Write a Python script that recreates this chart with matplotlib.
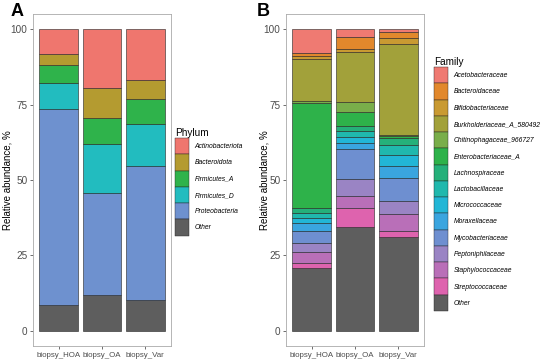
import matplotlib
matplotlib.use("Agg")
import matplotlib.pyplot as plt
from matplotlib.patches import Patch

plt.rcParams['font.family'] = ['Liberation Sans', 'DejaVu Sans']

samples = ['biopsy_HOA', 'biopsy_OA', 'biopsy_Var']

# Phylum level, stacked from bottom (Other) to top
phylum_names = ['Other', 'Proteobacteria', 'Firmicutes_D', 'Firmicutes_A',
                'Bacteroidota', 'Actinobacteriota']
phylum_vals = [
    [8.6, 11.9, 10.2],
    [64.9, 33.9, 44.4],
    [8.8, 16.2, 13.9],
    [5.8, 8.5, 8.4],
    [3.5, 9.9, 6.3],
    [8.4, 19.6, 16.8],
]
phylum_cols = ['#5e5e5e', '#6e91cf', '#22bcbf', '#2fb34b', '#b49b30', '#ef766e']

# Family level, stacked from bottom (Other) to top
family_names = ['Other', 'Streptococcaceae', 'Staphylococcaceae', 'Peptoniphilaceae',
                'Mycobacteriaceae', 'Moraxellaceae', 'Micrococcaceae', 'Lactobacillaceae',
                'Lachnospiraceae', 'Enterobacteriaceae_A', 'Chitinophagaceae_966727',
                'Burkholderiaceae_A_580492', 'Bifidobacteriaceae', 'Bacteroidaceae',
                'Acetobacteraceae']
family_vals = [
    [21.0, 34.4, 31.0],
    [1.4, 6.4, 2.0],
    [3.8, 4.0, 5.6],
    [2.8, 5.7, 4.4],
    [4.1, 9.9, 7.7],
    [2.5, 2.0, 3.9],
    [1.8, 2.0, 3.8],
    [1.8, 1.7, 3.3],
    [1.6, 1.9, 2.2],
    [34.7, 4.5, 0.8],
    [0.7, 3.2, 0.3],
    [13.8, 16.6, 29.9],
    [1.1, 1.1, 2.0],
    [0.9, 3.9, 2.3],
    [8.0, 2.7, 0.8],
]
family_cols = ['#5e5e5e', '#de63ae', '#b96fb8', '#9a84c4', '#6e8fd0', '#3aa5df',
               '#22b6d6', '#20b8ad', '#25b07a', '#2eb24a', '#79ae4a', '#a2a13a',
               '#c99a32', '#e2882c', '#ef7a72']

fig = plt.figure(figsize=(5.48, 3.63), dpi=100)
axA = fig.add_axes([0.0602, 0.0468, 0.2518, 0.9146])
axB = fig.add_axes([0.5219, 0.0468, 0.2518, 0.9146])
x = [1, 2, 3]


def stack(ax, names, vals, cols, label_x):
    bottom = [0.0, 0.0, 0.0]
    for name, v, c in zip(names, vals, cols):
        ax.bar(x, v, width=0.9, bottom=bottom, color=c, edgecolor='#222222',
               linewidth=0.4, label=name)
        bottom = [b + vv for b, vv in zip(bottom, v)]
    ax.set_xlim(0.4, 3.6)
    ax.set_ylim(-5, 105)
    ax.set_yticks([0, 25, 50, 75, 100])
    ax.set_xticks(x)
    ax.set_xticklabels(samples)
    ax.tick_params(colors='#555555', length=2.5, width=0.6, pad=1.5)
    ax.tick_params(axis='x', labelcolor='#4d4d4d', labelsize=5.7)
    ax.tick_params(axis='y', labelcolor='#4d4d4d', labelsize=7.2)
    for s in ax.spines.values():
        s.set_color('#aaaaaa')
        s.set_linewidth(0.6)
    ax.set_ylabel('Relative abundance, %', fontsize=7)
    ax.yaxis.set_label_coords(label_x, 0.5)


stack(axA, phylum_names, phylum_vals, phylum_cols, -20 / 138)
stack(axB, family_names, family_vals, family_cols, -17 / 138)


def make_legend(names, cols, title, anchor):
    handles = [Patch(facecolor=c, edgecolor='#222222', linewidth=0.3)
               for c in cols[::-1]]
    leg = fig.legend(handles, names[::-1], loc='upper left', bbox_to_anchor=anchor,
                     frameon=False, title=title, title_fontsize=7.2,
                     prop={'style': 'italic', 'size': 4.9}, alignment='left',
                     handlelength=2.0, handleheight=3.3, labelspacing=0.0,
                     handletextpad=0.9, borderpad=0.0, borderaxespad=0.0)
    return leg


make_legend(phylum_names, phylum_cols, 'Phylum', (175 / 548, 1 - 128 / 363))
make_legend(family_names, family_cols, 'Family', (434 / 548, 1 - 57 / 363))

fig.text(11 / 548, 1 - 3 / 363, 'A', fontsize=13, fontweight='bold', va='top')
fig.text(257 / 548, 1 - 3 / 363, 'B', fontsize=13, fontweight='bold', va='top')

fig.savefig('out.png', dpi=100)
